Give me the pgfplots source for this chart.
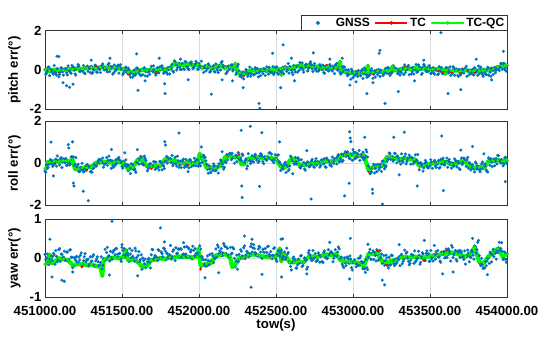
\documentclass[border=0pt]{standalone}
\usepackage{fontspec}
\setmainfont{Liberation Sans}
\usepackage{pgfplots}
\usepackage{pgfplotstable}
\pgfplotsset{compat=1.18}
\definecolor{gnss}{rgb}{0,0.447,0.741}
\definecolor{tcred}{rgb}{1,0,0}
\definecolor{qcgreen}{rgb}{0,1,0}

\pgfplotstableread{
t qc tc
451000 0.00 0.00
451030 -0.05 -0.05
451060 0.02 0.02
451090 -0.03 -0.12
451120 0.00 0.00
451150 0.05 0.05
451180 0.03 0.03
451210 0.08 0.08
451240 0.05 0.05
451270 0.10 0.10
451300 0.12 0.12
451330 0.08 0.20
451360 0.15 0.15
451390 0.12 0.12
451420 0.10 0.10
451450 0.14 0.14
451480 0.08 0.08
451510 0.05 0.05
451540 -0.12 -0.22
451570 -0.10 -0.10
451600 -0.05 -0.05
451630 0.00 0.00
451660 -0.03 -0.03
451690 0.02 0.02
451720 0.00 -0.10
451750 0.05 0.05
451780 0.03 0.03
451810 0.08 0.08
451840 0.32 0.32
451870 0.28 0.28
451900 0.25 0.25
451930 0.30 0.30
451960 0.24 0.24
451990 0.27 0.27
452020 0.12 0.12
452050 0.18 0.18
452080 0.10 0.10
452110 0.15 0.15
452140 0.22 0.22
452170 0.12 0.12
452200 0.15 0.15
452230 0.10 0.10
452236 0.32 0.32
452242 0.05 0.05
452260 -0.15 -0.15
452290 -0.20 -0.30
452320 -0.05 -0.05
452350 -0.02 -0.02
452380 -0.05 -0.05
452410 0.00 0.00
452440 -0.03 -0.03
452470 0.02 0.02
452500 0.00 0.00
452530 0.05 0.05
452536 -0.25 -0.25
452542 0.08 0.08
452560 0.12 0.12
452590 0.08 0.08
452620 0.15 0.15
452650 0.20 0.20
452680 0.18 0.18
452710 0.22 0.22
452740 0.15 0.15
452770 0.18 0.18
452800 0.12 0.12
452830 0.15 0.25
452860 0.10 0.10
452890 0.12 0.12
452912 0.12 0.12
452916 0.42 0.42
452920 0.10 0.10
452950 -0.10 -0.10
452980 -0.15 -0.15
453010 -0.12 -0.12
453040 -0.18 -0.18
453070 -0.10 -0.10
453092 -0.10 -0.10
453096 0.22 0.22
453100 -0.08 -0.08
453130 -0.12 -0.22
453160 -0.05 -0.05
453190 -0.10 -0.10
453220 -0.02 -0.02
453250 0.05 0.05
453258 0.18 0.18
453266 0.00 0.00
453280 -0.02 -0.02
453310 0.05 0.05
453340 0.08 0.16
453370 0.05 0.05
453400 0.10 0.10
453430 0.06 0.06
453460 0.08 0.08
453490 0.05 0.05
453520 0.02 0.02
453550 0.05 -0.05
453580 0.00 -0.10
453596 0.00 -0.05
453600 -0.20 -0.20
453610 0.00 0.00
453640 -0.05 -0.14
453670 -0.02 -0.02
453700 -0.05 -0.14
453730 0.00 0.00
453760 -0.05 -0.05
453790 -0.02 -0.12
453820 -0.05 -0.05
453850 0.00 0.00
453880 -0.02 -0.02
453910 0.05 0.05
453940 0.15 0.15
453970 0.20 0.20
454000 0.25 0.25
}\pitchlines

\pgfplotstableread{
t qc tc
451000 -0.25 -0.25
451015 0.05 0.05
451030 0.05 0.05
451060 0.10 0.10
451090 0.08 0.08
451120 0.12 0.12
451150 0.10 0.10
451180 0.15 0.15
451195 -0.28 -0.28
451210 -0.28 -0.28
451240 -0.22 -0.22
451270 -0.20 -0.30
451300 -0.18 -0.18
451330 0.02 0.02
451360 0.05 0.05
451390 0.08 0.08
451420 0.03 0.03
451450 0.06 0.06
451480 0.05 0.05
451510 0.02 0.02
451540 -0.28 -0.28
451570 -0.20 -0.20
451600 0.15 0.15
451630 0.18 0.18
451660 -0.12 -0.12
451690 -0.15 -0.25
451720 -0.10 -0.10
451750 -0.13 -0.13
451780 0.20 0.20
451810 0.12 0.12
451840 0.15 0.15
451870 0.02 0.02
451900 -0.02 -0.02
451930 0.03 -0.08
451960 0.00 0.00
451990 0.05 0.05
452005 0.45 0.45
452020 0.25 0.25
452050 -0.22 -0.22
452080 -0.20 -0.20
452110 -0.22 -0.22
452140 -0.10 -0.10
452170 0.30 0.30
452200 0.33 0.33
452230 0.28 0.28
452260 0.30 0.42
452275 -0.05 -0.05
452290 -0.05 -0.05
452320 0.22 0.22
452350 0.25 0.25
452380 0.30 0.30
452410 0.22 0.22
452440 0.28 0.28
452470 0.25 0.25
452500 0.20 0.20
452530 -0.15 -0.15
452560 -0.20 -0.20
452590 0.15 0.15
452620 0.17 0.17
452650 -0.05 -0.05
452680 -0.08 -0.08
452710 -0.05 -0.05
452740 0.00 0.00
452770 0.02 0.02
452800 0.05 0.05
452830 0.08 0.08
452860 0.10 0.10
452890 0.15 0.15
452920 0.35 0.35
452950 0.40 0.40
452980 0.42 0.42
453010 0.38 0.38
453040 0.35 0.35
453070 0.40 0.40
453100 -0.30 -0.38
453130 -0.20 -0.20
453160 -0.15 -0.15
453190 -0.12 -0.12
453220 0.30 0.30
453250 0.28 0.28
453280 0.22 0.22
453310 0.20 0.20
453340 0.25 0.25
453370 0.18 0.18
453400 0.20 0.20
453430 -0.12 -0.12
453460 -0.10 -0.10
453490 -0.05 -0.05
453520 0.00 0.00
453550 0.02 0.02
453580 0.08 0.08
453610 0.05 0.05
453640 -0.05 -0.05
453670 -0.03 -0.03
453700 0.10 0.10
453730 0.05 0.05
453760 -0.15 -0.15
453790 -0.20 -0.20
453820 -0.18 -0.18
453850 -0.22 -0.22
453880 0.10 0.10
453910 0.12 0.12
453940 0.15 0.15
453970 0.10 0.10
454000 0.15 0.15
}\rolllines

\pgfplotstableread{
t qc tc
451000 -0.15 -0.15
451020 -0.12 -0.12
451030 0.10 0.10
451045 -0.12 -0.12
451060 -0.10 -0.10
451090 0.00 0.00
451120 -0.02 -0.02
451150 -0.05 -0.05
451180 -0.18 -0.18
451210 -0.15 -0.15
451240 -0.15 -0.22
451270 -0.18 -0.18
451300 -0.15 -0.15
451330 -0.20 -0.20
451360 -0.22 -0.22
451372 -0.45 -0.45
451380 -0.05 -0.05
451390 -0.02 -0.02
451420 0.00 0.00
451450 0.02 0.02
451480 0.00 0.00
451510 0.03 0.03
451525 0.20 0.20
451540 -0.05 -0.05
451570 -0.03 -0.03
451600 -0.08 -0.08
451630 -0.22 -0.22
451660 -0.20 -0.20
451690 -0.05 -0.05
451720 -0.03 -0.03
451750 0.00 0.00
451780 -0.02 -0.02
451810 0.03 0.03
451840 0.02 0.02
451870 0.05 0.05
451900 0.03 0.03
451930 0.04 0.04
451960 0.02 0.02
451990 0.05 0.05
451998 0.25 0.25
452010 -0.18 -0.28
452020 -0.18 -0.18
452050 -0.14 -0.14
452080 -0.12 -0.12
452110 0.08 0.08
452140 0.08 0.08
452170 0.10 0.10
452200 0.05 0.05
452215 -0.22 -0.22
452230 -0.20 -0.20
452260 0.00 0.00
452290 0.02 0.02
452320 0.08 0.08
452350 0.10 0.10
452380 0.08 0.08
452410 0.05 0.05
452440 0.03 0.03
452470 0.02 0.02
452500 0.05 0.05
452525 0.25 0.25
452535 -0.08 -0.08
452545 0.12 0.12
452560 0.08 0.08
452590 -0.10 -0.10
452620 -0.10 -0.10
452650 -0.08 -0.08
452680 -0.10 -0.10
452710 0.03 0.03
452740 0.05 0.05
452770 0.04 0.04
452800 0.07 0.07
452830 0.10 0.10
452860 0.08 0.08
452890 0.11 0.11
452920 -0.05 -0.05
452950 -0.08 -0.08
452980 -0.10 -0.10
453010 -0.10 -0.10
453040 -0.12 -0.12
453070 -0.20 -0.22
453100 0.10 0.10
453130 0.11 0.11
453160 0.12 0.20
453190 -0.08 -0.08
453220 -0.10 -0.18
453250 -0.06 -0.06
453280 -0.05 -0.05
453310 0.03 0.03
453340 0.03 0.03
453370 0.02 0.02
453400 0.04 0.04
453430 0.03 0.03
453460 0.02 -0.06
453490 0.05 0.05
453520 0.07 0.07
453550 0.08 0.08
453580 0.12 0.12
453610 0.10 0.20
453640 0.15 0.15
453670 0.12 0.12
453700 0.08 0.08
453730 0.05 0.05
453760 0.10 0.10
453790 0.28 0.28
453820 -0.10 -0.10
453850 -0.12 -0.12
453880 0.05 0.05
453910 0.15 0.15
453940 0.25 0.25
453970 0.05 0.05
454000 0.10 0.10
}\yawlines

\pgfplotsset{
  panel/.style={
    scale only axis, width=462bp,
    xmin=451000, xmax=454000,
    xtick={451000,451500,452000,452500,453000,453500,454000},
    scaled x ticks=false,
    xmajorgrids, ymajorgrids,
    grid style={black!14, line width=0.5bp},
    axis line style={black!80, line width=0.7bp},
    every tick/.style={black!80, line width=0.7bp},
    major tick length=3bp,
    tick align=inside,
    /pgf/number format/assume math mode=true,
    tick label style={font=\bfseries\fontsize{13.3}{14}\selectfont},
    xticklabel style={yshift=-5bp},
    label style={font=\bfseries\fontsize{13.3}{14}\selectfont},
    ylabel style={at={(axis description cs:-0.066,0.5)}, anchor=center},
    clip=true,
  },
  gnssstyle/.style={only marks, mark=*, mark size=1.45bp, gnss, mark options={draw=gnss, fill=gnss, line width=0.2bp},
    legend image code/.code={\path[draw=none] (0bp,0bp) -- (32bp,0bp); \fill[gnss] (16bp,0bp) circle[radius=1.3bp];}},
  tcstyle/.style={tcred, line width=0.9bp, line join=round, mark=*, mark size=1.2bp, mark options={line width=0.3bp, fill=tcred}},
  qcstyle/.style={qcgreen, line width=4.2bp, line join=round, line cap=round, mark=*, mark size=1.3bp, mark options={line width=0.3bp, fill=qcgreen}},
}

\begin{document}
\begin{tikzpicture}
\path[use as bounding box] (0bp,0bp) rectangle (550bp,343bp);

% ---------------- pitch ----------------
\begin{axis}[panel, at={(45bp,312.3bp)}, anchor=north west, height=78.6bp,
  ymin=-2, ymax=2, ytick={-2,0,2}, xticklabels={}, ylabel={pitch err(°)},
  legend columns=3,
  legend style={at={(rel axis cs:1,1)}, anchor=south east, xshift=0.5bp, yshift=-0.5bp,
    font=\bfseries\fontsize{12}{12}\selectfont, draw=black!80, line width=0.7bp,
    inner sep=1bp, row sep=0bp,
    /tikz/every even column/.append style={column sep=3bp}},
  legend image code/.code={\draw[mark repeat=2,mark phase=2,#1] plot coordinates {(0bp,0bp) (16bp,0bp) (32bp,0bp)};},
  legend image post style={line width=1.3bp, mark size=1.9bp},
]
\addplot[gnssstyle] table[row sep=\\] {t y\\
451000 0.01\\ 451010 -0.16\\ 451020 0.14\\ 451030 -0.29\\ 451040 -0.07\\ 451050 -0.17\\
451060 0.23\\ 451070 -0.17\\ 451080 0.08\\ 451090 -0.35\\ 451100 -0.10\\ 451110 0.07\\
451120 -0.26\\ 451130 0.04\\ 451140 -0.14\\ 451150 0.21\\ 451160 -0.05\\ 451170 -0.17\\
451180 0.11\\ 451190 -0.01\\ 451200 -0.26\\ 451210 0.13\\ 451220 0.20\\ 451230 -0.07\\
451240 -0.03\\ 451250 0.23\\ 451260 -0.18\\ 451270 0.12\\ 451280 -0.07\\ 451290 0.09\\
451300 0.19\\ 451310 -0.13\\ 451320 0.01\\ 451330 0.21\\ 451340 -0.12\\ 451350 0.05\\
451360 -0.13\\ 451370 0.24\\ 451380 0.09\\ 451390 0.15\\ 451400 -0.01\\ 451410 0.27\\
451420 -0.08\\ 451430 0.10\\ 451440 -0.21\\ 451450 0.25\\ 451460 0.05\\ 451470 0.20\\
451480 -0.16\\ 451490 0.27\\ 451500 0.03\\ 451510 -0.16\\ 451520 0.09\\ 451530 -0.11\\
451540 0.10\\ 451550 -0.24\\ 451560 -0.14\\ 451570 -0.37\\ 451580 0.00\\ 451590 -0.20\\
451600 0.09\\ 451610 -0.19\\ 451620 -0.28\\ 451630 0.01\\ 451640 0.08\\ 451650 -0.30\\
451660 0.02\\ 451670 -0.10\\ 451680 -0.22\\ 451690 0.19\\ 451700 -0.09\\ 451710 0.01\\
451720 -0.26\\ 451730 0.12\\ 451740 -0.15\\ 451750 0.01\\ 451760 0.21\\ 451770 -0.17\\
451780 0.05\\ 451790 -0.14\\ 451800 0.12\\ 451810 -0.20\\ 451820 0.08\\ 451830 -0.05\\
451840 0.47\\ 451850 0.26\\ 451860 0.12\\ 451870 0.35\\ 451880 0.03\\ 451890 0.32\\
451900 0.07\\ 451910 0.43\\ 451920 0.16\\ 451930 0.07\\ 451940 0.33\\ 451950 0.41\\
451960 0.08\\ 451970 0.17\\ 451980 0.44\\ 451990 0.06\\ 452000 0.33\\ 452010 0.15\\
452020 0.11\\ 452030 -0.12\\ 452040 0.22\\ 452050 0.08\\ 452060 0.31\\ 452070 -0.11\\
452080 0.14\\ 452090 0.05\\ 452100 -0.08\\ 452110 0.31\\ 452120 0.00\\ 452130 0.16\\
452140 0.00\\ 452150 0.44\\ 452160 0.14\\ 452170 0.17\\ 452180 -0.14\\ 452190 0.20\\
452200 0.04\\ 452210 0.26\\ 452220 -0.05\\ 452230 0.08\\ 452240 -0.22\\ 452250 0.17\\
452260 -0.05\\ 452270 -0.28\\ 452280 -0.22\\ 452290 -0.45\\ 452300 -0.18\\ 452310 -0.06\\
452320 -0.22\\ 452330 0.15\\ 452340 -0.19\\ 452350 -0.02\\ 452360 -0.23\\ 452370 0.01\\
452380 0.07\\ 452390 -0.14\\ 452400 -0.29\\ 452410 -0.06\\ 452420 0.07\\ 452430 -0.28\\
452440 0.16\\ 452450 -0.21\\ 452460 -0.07\\ 452470 -0.10\\ 452480 0.17\\ 452490 -0.14\\
452500 0.14\\ 452510 -0.16\\ 452520 0.01\\ 452530 -0.07\\ 452540 0.03\\ 452550 -0.19\\
452560 0.18\\ 452570 -0.07\\ 452580 0.33\\ 452590 0.18\\ 452600 0.01\\ 452610 -0.24\\
452620 0.01\\ 452630 0.19\\ 452640 -0.11\\ 452650 -0.02\\ 452660 0.10\\ 452670 0.36\\
452680 -0.11\\ 452690 0.14\\ 452700 0.26\\ 452710 0.07\\ 452720 0.34\\ 452730 0.27\\
452740 -0.08\\ 452750 0.33\\ 452760 0.07\\ 452770 0.17\\ 452780 0.01\\ 452790 0.20\\
452800 0.01\\ 452810 -0.13\\ 452820 0.19\\ 452830 0.12\\ 452840 -0.05\\ 452850 0.28\\
452860 0.04\\ 452870 0.19\\ 452880 -0.18\\ 452890 0.27\\ 452900 -0.01\\ 452910 0.15\\
452920 -0.21\\ 452930 0.10\\ 452940 -0.08\\ 452950 -0.04\\ 452960 -0.19\\ 452970 0.01\\
452980 -0.20\\ 452990 0.04\\ 453000 -0.39\\ 453010 -0.28\\ 453020 -0.08\\ 453030 -0.33\\
453040 -0.20\\ 453050 -0.30\\ 453060 0.04\\ 453070 -0.20\\ 453080 0.00\\ 453090 -0.37\\
453100 -0.31\\ 453110 -0.22\\ 453120 0.06\\ 453130 -0.42\\ 453140 -0.04\\ 453150 -0.11\\
453160 -0.24\\ 453170 -0.12\\ 453180 0.00\\ 453190 -0.11\\ 453200 -0.21\\ 453210 0.07\\
453220 -0.17\\ 453230 0.10\\ 453240 -0.28\\ 453250 -0.17\\ 453260 0.21\\ 453270 0.01\\
453280 0.07\\ 453290 -0.19\\ 453300 0.00\\ 453310 -0.08\\ 453320 0.05\\ 453330 -0.23\\
453340 -0.12\\ 453350 0.02\\ 453360 0.23\\ 453370 0.09\\ 453380 -0.20\\ 453390 0.12\\
453400 0.01\\ 453410 0.28\\ 453420 -0.08\\ 453430 0.17\\ 453440 0.09\\ 453450 -0.17\\
453460 0.28\\ 453470 0.01\\ 453480 -0.08\\ 453490 -0.07\\ 453500 0.11\\ 453510 -0.16\\
453520 0.12\\ 453530 -0.22\\ 453540 0.01\\ 453550 -0.24\\ 453560 0.18\\ 453570 -0.05\\
453580 -0.18\\ 453590 -0.05\\ 453600 0.04\\ 453610 0.01\\ 453620 -0.15\\ 453630 0.16\\
453640 -0.13\\ 453650 0.17\\ 453660 -0.27\\ 453670 0.06\\ 453680 -0.28\\ 453690 0.03\\
453700 -0.25\\ 453710 0.06\\ 453720 -0.16\\ 453730 0.07\\ 453740 -0.32\\ 453750 -0.02\\
453760 -0.12\\ 453770 -0.18\\ 453780 0.05\\ 453790 0.12\\ 453800 0.00\\ 453810 -0.27\\
453820 -0.19\\ 453830 0.15\\ 453840 -0.22\\ 453850 0.03\\ 453860 -0.21\\ 453870 0.00\\
453880 -0.26\\ 453890 -0.11\\ 453900 0.10\\ 453910 -0.23\\ 453920 0.12\\ 453930 -0.01\\
453940 0.11\\ 453950 -0.03\\ 453960 0.34\\ 453970 0.04\\ 453980 0.35\\ 453990 0.08\\
454000 0.22\\
451005 -0.22\\ 451015 -0.04\\ 451025 0.16\\ 451035 0.04\\ 451045 -0.03\\ 451055 -0.22\\
451065 -0.11\\ 451075 -0.26\\ 451085 0.02\\ 451095 -0.23\\ 451105 0.12\\ 451115 -0.09\\
451125 0.04\\ 451135 0.07\\ 451145 -0.25\\ 451155 -0.04\\ 451165 -0.13\\ 451175 0.23\\
451185 0.14\\ 451195 -0.20\\ 451205 0.06\\ 451215 0.28\\ 451225 -0.08\\ 451235 0.01\\
451245 -0.07\\ 451255 -0.16\\ 451265 0.11\\ 451275 0.20\\ 451285 0.09\\ 451295 -0.14\\
451305 -0.17\\ 451315 0.02\\ 451325 0.25\\ 451335 -0.10\\ 451345 0.12\\ 451355 0.03\\
451365 0.16\\ 451375 0.31\\ 451385 0.00\\ 451395 0.04\\ 451405 -0.10\\ 451415 0.34\\
451425 0.18\\ 451435 0.15\\ 451445 -0.16\\ 451455 -0.06\\ 451465 0.03\\ 451475 0.25\\
451485 0.15\\ 451495 0.06\\ 451505 -0.24\\ 451515 -0.02\\ 451525 0.15\\ 451535 -0.08\\
451545 0.02\\ 451555 -0.37\\ 451565 -0.10\\ 451575 -0.24\\ 451585 -0.27\\ 451595 0.10\\
451605 -0.02\\ 451615 -0.05\\ 451625 -0.26\\ 451635 -0.24\\ 451645 0.12\\ 451655 -0.09\\
451665 -0.31\\ 451675 -0.09\\ 451685 0.04\\ 451695 -0.02\\ 451705 0.21\\ 451715 -0.16\\
451725 -0.16\\ 451735 -0.12\\ 451745 0.15\\ 451755 0.19\\ 451765 0.06\\ 451775 -0.11\\
451785 -0.09\\ 451795 -0.21\\ 451805 0.01\\ 451815 0.14\\ 451825 0.29\\ 451835 -0.11\\
451845 0.42\\ 451855 0.00\\ 451865 0.25\\ 451875 0.14\\ 451885 0.02\\ 451895 0.32\\
451905 0.03\\ 451915 0.41\\ 451925 0.15\\ 451935 0.01\\ 451945 0.38\\ 451955 0.26\\
451965 0.09\\ 451975 0.29\\ 451985 0.36\\ 451995 0.04\\ 452005 0.19\\ 452015 0.45\\
452025 0.11\\ 452035 0.14\\ 452045 -0.05\\ 452055 0.07\\ 452065 0.25\\ 452075 -0.07\\
452085 0.07\\ 452095 0.23\\ 452105 -0.10\\ 452115 0.09\\ 452125 -0.13\\ 452135 0.24\\
452145 0.37\\ 452155 0.25\\ 452165 0.09\\ 452175 -0.19\\ 452185 -0.06\\ 452195 0.12\\
452205 0.21\\ 452215 0.26\\ 452225 0.06\\ 452235 0.05\\ 452245 -0.14\\ 452255 0.29\\
452265 -0.31\\ 452275 -0.36\\ 452285 -0.11\\ 452295 -0.22\\ 452305 0.02\\ 452315 -0.32\\
452325 -0.15\\ 452335 -0.32\\ 452345 0.05\\ 452355 -0.25\\ 452365 0.12\\ 452375 -0.16\\
452385 -0.35\\ 452395 -0.04\\ 452405 0.03\\ 452415 -0.19\\ 452425 0.05\\ 452435 -0.07\\
452445 -0.04\\ 452455 0.14\\ 452465 -0.14\\ 452475 -0.13\\ 452485 -0.24\\ 452495 0.14\\
452505 0.16\\ 452515 -0.22\\ 452525 -0.04\\ 452535 -0.12\\ 452545 0.14\\ 452555 0.07\\
452565 0.12\\ 452575 -0.01\\ 452585 -0.16\\ 452595 0.02\\ 452605 -0.12\\ 452615 0.23\\
452625 -0.10\\ 452635 0.19\\ 452645 0.22\\ 452655 0.38\\ 452665 0.11\\ 452675 0.02\\
452685 0.21\\ 452695 0.29\\ 452705 -0.05\\ 452715 0.15\\ 452725 0.42\\ 452735 0.06\\
452745 0.21\\ 452755 0.03\\ 452765 -0.06\\ 452775 -0.06\\ 452785 0.28\\ 452795 0.17\\
452805 0.25\\ 452815 -0.17\\ 452825 0.02\\ 452835 0.10\\ 452845 -0.03\\ 452855 0.19\\
452865 -0.05\\ 452875 0.11\\ 452885 0.26\\ 452895 0.34\\ 452905 0.04\\ 452915 -0.10\\
452925 -0.16\\ 452935 0.18\\ 452945 0.15\\ 452955 0.01\\ 452965 -0.30\\ 452975 -0.21\\
452985 -0.47\\ 452995 -0.08\\ 453005 -0.17\\ 453015 -0.25\\ 453025 -0.19\\ 453035 -0.02\\
453045 -0.16\\ 453055 -0.04\\ 453065 -0.43\\ 453075 0.10\\ 453085 -0.24\\ 453095 -0.27\\
453105 -0.29\\ 453115 -0.05\\ 453125 -0.08\\ 453135 -0.21\\ 453145 -0.36\\ 453155 0.00\\
453165 0.02\\ 453175 -0.33\\ 453185 -0.11\\ 453195 -0.28\\ 453205 -0.14\\ 453215 0.09\\
453225 0.13\\ 453235 -0.18\\ 453245 -0.14\\ 453255 -0.11\\ 453265 0.19\\ 453275 0.06\\
453285 -0.04\\ 453295 -0.14\\ 453305 -0.26\\ 453315 -0.14\\ 453325 0.11\\ 453335 0.26\\
453345 0.01\\ 453355 0.18\\ 453365 -0.24\\ 453375 0.09\\ 453385 -0.09\\ 453395 -0.21\\
453405 0.00\\ 453415 -0.12\\ 453425 0.26\\ 453435 0.02\\ 453445 -0.23\\ 453455 0.14\\
453465 0.20\\ 453475 -0.07\\ 453485 0.13\\ 453495 0.23\\ 453505 -0.18\\ 453515 -0.03\\
453525 -0.15\\ 453535 0.01\\ 453545 0.04\\ 453555 -0.20\\ 453565 -0.06\\ 453575 0.12\\
453585 -0.20\\ 453595 -0.03\\ 453605 0.13\\ 453615 0.09\\ 453625 -0.06\\ 453635 -0.28\\
453645 -0.18\\ 453655 0.10\\ 453665 -0.02\\ 453675 -0.02\\ 453685 -0.33\\ 453695 -0.20\\
453705 -0.14\\ 453715 0.01\\ 453725 0.06\\ 453735 0.19\\ 453745 -0.05\\ 453755 -0.24\\
453765 -0.01\\ 453775 -0.21\\ 453785 -0.26\\ 453795 -0.14\\ 453805 -0.04\\ 453815 0.20\\
453825 0.05\\ 453835 -0.15\\ 453845 -0.32\\ 453855 -0.14\\ 453865 -0.23\\ 453875 0.14\\
453885 0.06\\ 453895 -0.32\\ 453905 -0.01\\ 453915 -0.02\\ 453925 -0.14\\ 453935 0.10\\
453945 0.04\\ 453955 0.14\\ 453965 0.32\\ 453975 0.32\\ 453985 0.05\\ 453995 -0.06\\
451078 0.70\\ 451090 0.68\\ 451117 -0.65\\ 451140 -0.80\\ 451160 -0.88\\ 451182 -0.72\\
451422 0.60\\ 451595 0.82\\ 451604 -1.03\\ 451742 0.60\\ 451777 -0.70\\ 451780 -1.20\\
451930 -0.50\\ 452080 -1.23\\ 452217 -0.55\\ 452287 -0.90\\ 452390 -1.70\\ 452395 -1.95\\
452478 0.85\\ 452546 1.28\\ 452530 -0.90\\ 452600 0.60\\ 452742 0.87\\ 452980 -0.77\\
453090 -1.20\\ 453170 0.85\\ 453175 1.00\\ 453208 -1.70\\ 453294 -1.10\\ 453571 1.90\\
453617 -1.20\\ 453700 -1.00\\ 453977 0.95\\ 451300 0.50\\ 451650 -0.55\\ 451880 0.55\\
452150 -0.50\\ 452620 -0.55\\ 452850 0.55\\ 453020 -0.60\\ 453400 -0.55\\ 453460 0.50\\
453800 0.55\\ 453900 -0.50\\ 452930 0.60\\ 453130 -0.65\\
};
\addlegendentry{GNSS}
\addplot[tcstyle] table[x=t, y=tc] {\pitchlines};
\addlegendentry{TC}
\addplot[qcstyle] table[x=t, y=qc] {\pitchlines};
\addlegendentry{TC-QC}
\end{axis}

% ---------------- roll ----------------
\begin{axis}[panel, at={(45bp,221.7bp)}, anchor=north west, height=84bp,
  ymin=-2, ymax=2, ytick={-2,0,2}, xticklabels={}, ylabel={roll err(°)}]
\addplot[gnssstyle] table[row sep=\\] {t y\\
451000 -0.37\\ 451010 -0.07\\ 451020 -0.20\\ 451030 0.07\\ 451040 -0.03\\ 451050 -0.15\\
451060 -0.05\\ 451070 0.20\\ 451080 0.35\\ 451090 0.05\\ 451100 0.22\\ 451110 -0.20\\
451120 0.20\\ 451130 0.02\\ 451140 -0.10\\ 451150 0.04\\ 451160 -0.08\\ 451170 0.30\\
451180 0.15\\ 451190 -0.10\\ 451200 0.27\\ 451210 -0.12\\ 451220 -0.39\\ 451230 -0.19\\
451240 0.00\\ 451250 -0.41\\ 451260 -0.26\\ 451270 -0.33\\ 451280 -0.17\\ 451290 -0.14\\
451300 -0.39\\ 451310 -0.25\\ 451320 -0.07\\ 451330 -0.14\\ 451340 0.03\\ 451350 0.19\\
451360 0.18\\ 451370 0.03\\ 451380 -0.19\\ 451390 -0.01\\ 451400 0.27\\ 451410 0.15\\
451420 0.07\\ 451430 -0.24\\ 451440 -0.11\\ 451450 0.01\\ 451460 0.16\\ 451470 0.21\\
451480 0.28\\ 451490 0.04\\ 451500 -0.15\\ 451510 0.10\\ 451520 -0.10\\ 451530 -0.15\\
451540 -0.36\\ 451550 -0.26\\ 451560 -0.02\\ 451570 -0.06\\ 451580 -0.26\\ 451590 -0.43\\
451600 0.05\\ 451610 -0.04\\ 451620 0.33\\ 451630 0.30\\ 451640 -0.08\\ 451650 0.23\\
451660 -0.15\\ 451670 -0.27\\ 451680 -0.03\\ 451690 -0.22\\ 451700 -0.12\\ 451710 0.06\\
451720 0.06\\ 451730 -0.21\\ 451740 -0.32\\ 451750 0.07\\ 451760 -0.31\\ 451770 -0.13\\
451780 0.07\\ 451790 0.33\\ 451800 0.26\\ 451810 0.16\\ 451820 0.03\\ 451830 -0.12\\
451840 0.13\\ 451850 -0.01\\ 451860 0.34\\ 451870 -0.19\\ 451880 0.10\\ 451890 0.13\\
451900 0.20\\ 451910 -0.07\\ 451920 -0.16\\ 451930 0.10\\ 451940 0.18\\ 451950 -0.16\\
451960 -0.03\\ 451970 0.24\\ 451980 -0.12\\ 451990 0.15\\ 452000 -0.03\\ 452010 -0.12\\
452020 0.05\\ 452030 0.39\\ 452040 0.28\\ 452050 -0.05\\ 452060 -0.47\\ 452070 -0.28\\
452080 -0.21\\ 452090 -0.34\\ 452100 -0.12\\ 452110 -0.33\\ 452120 -0.17\\ 452130 -0.02\\
452140 0.16\\ 452150 -0.14\\ 452160 -0.28\\ 452170 0.08\\ 452180 0.42\\ 452190 0.39\\
452200 0.48\\ 452210 0.17\\ 452220 0.26\\ 452230 0.00\\ 452240 0.39\\ 452250 0.30\\
452260 0.21\\ 452270 0.27\\ 452280 0.44\\ 452290 0.01\\ 452300 0.13\\ 452310 -0.26\\
452320 0.46\\ 452330 0.12\\ 452340 0.09\\ 452350 0.08\\ 452360 0.32\\ 452370 0.29\\
452380 0.25\\ 452390 0.10\\ 452400 0.46\\ 452410 0.33\\ 452420 -0.02\\ 452430 0.20\\
452440 0.14\\ 452450 0.28\\ 452460 0.51\\ 452470 0.44\\ 452480 0.13\\ 452490 0.17\\
452500 0.25\\ 452510 0.38\\ 452520 0.08\\ 452530 -0.35\\ 452540 -0.23\\ 452550 -0.13\\
452560 0.05\\ 452570 -0.10\\ 452580 -0.35\\ 452590 -0.13\\ 452600 0.29\\ 452610 0.12\\
452620 -0.05\\ 452630 0.07\\ 452640 0.25\\ 452650 0.15\\ 452660 -0.23\\ 452670 -0.11\\
452680 0.04\\ 452690 -0.33\\ 452700 -0.08\\ 452710 0.04\\ 452720 -0.16\\ 452730 0.11\\
452740 -0.04\\ 452750 -0.19\\ 452760 0.22\\ 452770 0.08\\ 452780 0.05\\ 452790 -0.11\\
452800 0.16\\ 452810 -0.02\\ 452820 -0.16\\ 452830 0.25\\ 452840 0.09\\ 452850 -0.08\\
452860 -0.14\\ 452870 0.08\\ 452880 0.23\\ 452890 0.22\\ 452900 0.34\\ 452910 0.06\\
452920 0.21\\ 452930 0.08\\ 452940 0.39\\ 452950 0.55\\ 452960 0.50\\ 452970 0.35\\
452980 0.22\\ 452990 0.41\\ 453000 0.65\\ 453010 0.21\\ 453020 0.26\\ 453030 0.46\\
453040 0.61\\ 453050 0.37\\ 453060 0.27\\ 453070 0.17\\ 453080 0.34\\ 453090 0.54\\
453100 -0.12\\ 453110 -0.49\\ 453120 -0.40\\ 453130 -0.15\\ 453140 -0.46\\ 453150 -0.08\\
453160 -0.06\\ 453170 -0.30\\ 453180 -0.18\\ 453190 0.09\\ 453200 -0.09\\ 453210 -0.19\\
453220 0.08\\ 453230 0.19\\ 453240 0.46\\ 453250 0.28\\ 453260 0.10\\ 453270 0.48\\
453280 0.28\\ 453290 0.35\\ 453300 0.09\\ 453310 -0.04\\ 453320 0.11\\ 453330 0.24\\
453340 0.44\\ 453350 0.09\\ 453360 0.23\\ 453370 0.29\\ 453380 0.26\\ 453390 -0.03\\
453400 0.06\\ 453410 0.15\\ 453420 0.42\\ 453430 -0.31\\ 453440 0.03\\ 453450 -0.05\\
453460 -0.22\\ 453470 0.14\\ 453480 -0.13\\ 453490 -0.22\\ 453500 -0.13\\ 453510 0.05\\
453520 0.03\\ 453530 0.14\\ 453540 -0.20\\ 453550 -0.04\\ 453560 -0.23\\ 453570 0.19\\
453580 0.16\\ 453590 -0.06\\ 453600 0.07\\ 453610 0.25\\ 453620 0.10\\ 453630 -0.06\\
453640 -0.23\\ 453650 -0.09\\ 453660 0.21\\ 453670 0.06\\ 453680 0.09\\ 453690 -0.25\\
453700 0.03\\ 453710 -0.06\\ 453720 0.25\\ 453730 0.07\\ 453740 0.16\\ 453750 -0.23\\
453760 -0.01\\ 453770 -0.18\\ 453780 -0.24\\ 453790 -0.41\\ 453800 -0.02\\ 453810 -0.14\\
453820 -0.31\\ 453830 -0.28\\ 453840 0.06\\ 453850 -0.18\\ 453860 -0.15\\ 453870 -0.39\\
453880 0.26\\ 453890 -0.10\\ 453900 0.05\\ 453910 0.10\\ 453920 -0.12\\ 453930 0.23\\
453940 0.38\\ 453950 0.15\\ 453960 0.01\\ 453970 0.02\\ 453980 -0.02\\ 453990 0.29\\
454000 0.12\\
451005 -0.43\\ 451015 -0.25\\ 451025 -0.05\\ 451035 0.18\\ 451045 0.11\\ 451055 -0.08\\
451065 0.01\\ 451075 -0.14\\ 451085 0.14\\ 451095 -0.08\\ 451105 0.27\\ 451115 0.06\\
451125 0.20\\ 451135 0.23\\ 451145 -0.09\\ 451155 0.05\\ 451165 -0.04\\ 451175 0.32\\
451185 0.30\\ 451195 -0.04\\ 451205 -0.22\\ 451215 -0.04\\ 451225 -0.40\\ 451235 -0.31\\
451245 -0.30\\ 451255 -0.39\\ 451265 -0.12\\ 451275 -0.06\\ 451285 -0.17\\ 451295 -0.40\\
451305 -0.43\\ 451315 -0.24\\ 451325 -0.01\\ 451335 -0.12\\ 451345 0.10\\ 451355 0.01\\
451365 0.10\\ 451375 0.25\\ 451385 -0.06\\ 451395 0.04\\ 451405 -0.10\\ 451415 0.34\\
451425 0.15\\ 451435 0.12\\ 451445 -0.19\\ 451455 -0.10\\ 451465 -0.01\\ 451475 0.21\\
451485 0.16\\ 451495 0.07\\ 451505 -0.23\\ 451515 -0.01\\ 451525 0.16\\ 451535 -0.07\\
451545 -0.10\\ 451555 -0.49\\ 451565 -0.22\\ 451575 -0.30\\ 451585 -0.33\\ 451595 0.04\\
451605 0.22\\ 451615 0.19\\ 451625 -0.02\\ 451635 -0.02\\ 451645 0.34\\ 451655 0.13\\
451665 -0.36\\ 451675 -0.14\\ 451685 -0.01\\ 451695 -0.15\\ 451705 0.08\\ 451715 -0.29\\
451725 -0.22\\ 451735 -0.18\\ 451745 0.09\\ 451755 0.05\\ 451765 -0.08\\ 451775 -0.25\\
451785 0.12\\ 451795 0.00\\ 451805 0.22\\ 451815 0.22\\ 451825 0.37\\ 451835 -0.03\\
451845 0.29\\ 451855 -0.13\\ 451865 0.12\\ 451875 -0.08\\ 451885 -0.20\\ 451895 0.10\\
451905 -0.20\\ 451915 0.18\\ 451925 -0.08\\ 451935 -0.22\\ 451945 0.15\\ 451955 0.03\\
451965 -0.11\\ 451975 0.09\\ 451985 0.16\\ 451995 -0.14\\ 452005 0.01\\ 452015 0.27\\
452025 0.28\\ 452035 0.31\\ 452045 0.12\\ 452055 -0.29\\ 452065 -0.11\\ 452075 -0.43\\
452085 -0.19\\ 452095 -0.03\\ 452105 -0.36\\ 452115 -0.24\\ 452125 -0.46\\ 452135 -0.09\\
452145 0.09\\ 452155 -0.03\\ 452165 -0.19\\ 452175 0.03\\ 452185 0.16\\ 452195 0.34\\
452205 0.43\\ 452215 0.48\\ 452225 0.28\\ 452235 0.27\\ 452245 0.08\\ 452255 0.51\\
452265 0.18\\ 452275 0.13\\ 452285 0.38\\ 452295 -0.03\\ 452305 0.21\\ 452315 -0.13\\
452325 0.16\\ 452335 -0.01\\ 452345 0.36\\ 452355 0.06\\ 452365 0.43\\ 452375 0.15\\
452385 0.04\\ 452395 0.35\\ 452405 0.42\\ 452415 0.07\\ 452425 0.31\\ 452435 0.19\\
452445 0.31\\ 452455 0.49\\ 452465 0.21\\ 452475 0.14\\ 452485 0.03\\ 452495 0.41\\
452505 0.20\\ 452515 0.40\\ 452525 0.02\\ 452535 -0.09\\ 452545 -0.28\\ 452555 -0.02\\
452565 -0.44\\ 452575 -0.16\\ 452585 -0.29\\ 452595 0.34\\ 452605 0.13\\ 452615 -0.01\\
452625 0.28\\ 452635 -0.04\\ 452645 0.25\\ 452655 -0.19\\ 452665 0.17\\ 452675 -0.10\\
452685 -0.27\\ 452695 -0.01\\ 452705 0.07\\ 452715 -0.17\\ 452725 -0.08\\ 452735 0.19\\
452745 -0.17\\ 452755 0.10\\ 452765 -0.08\\ 452775 0.05\\ 452785 -0.18\\ 452795 0.16\\
452805 -0.01\\ 452815 0.22\\ 452825 -0.20\\ 452835 0.16\\ 452845 0.07\\ 452855 -0.06\\
452865 0.30\\ 452875 -0.01\\ 452885 0.15\\ 452895 -0.03\\ 452905 0.41\\ 452915 0.11\\
452925 0.44\\ 452935 0.13\\ 452945 0.47\\ 452955 0.33\\ 452965 0.55\\ 452975 0.24\\
452985 0.44\\ 452995 0.14\\ 453005 0.53\\ 453015 0.52\\ 453025 0.29\\ 453035 0.35\\
453045 0.14\\ 453055 0.41\\ 453065 0.53\\ 453075 0.27\\ 453085 0.64\\ 453095 0.30\\
453105 -0.26\\ 453115 -0.47\\ 453125 -0.23\\ 453135 -0.04\\ 453145 -0.25\\ 453155 -0.40\\
453165 -0.17\\ 453175 -0.04\\ 453185 -0.39\\ 453195 0.11\\ 453205 -0.26\\ 453215 -0.12\\
453225 0.22\\ 453235 0.49\\ 453245 0.18\\ 453255 0.33\\ 453265 0.16\\ 453275 0.46\\
453285 0.02\\ 453295 0.24\\ 453305 0.14\\ 453315 0.45\\ 453325 0.05\\ 453335 0.30\\
453345 -0.03\\ 453355 0.22\\ 453365 0.39\\ 453375 -0.04\\ 453385 0.26\\ 453395 0.08\\
453405 0.40\\ 453415 0.14\\ 453425 0.02\\ 453435 0.00\\ 453445 -0.12\\ 453455 -0.37\\
453465 -0.01\\ 453475 0.06\\ 453485 -0.21\\ 453495 -0.09\\ 453505 0.17\\ 453515 -0.24\\
453525 0.06\\ 453535 -0.13\\ 453545 0.03\\ 453555 0.13\\ 453565 -0.19\\ 453575 -0.05\\
453585 0.25\\ 453595 -0.08\\ 453605 0.09\\ 453615 -0.19\\ 453625 0.18\\ 453635 0.03\\
453645 0.02\\ 453655 -0.14\\ 453665 0.14\\ 453675 -0.17\\ 453685 0.01\\ 453695 -0.30\\
453705 0.25\\ 453715 0.05\\ 453725 0.20\\ 453735 -0.15\\ 453745 0.28\\ 453755 0.04\\
453765 -0.32\\ 453775 -0.07\\ 453785 -0.27\\ 453795 0.06\\ 453805 -0.28\\ 453815 -0.18\\
453825 -0.41\\ 453835 -0.04\\ 453845 -0.24\\ 453855 -0.04\\ 453865 -0.32\\ 453875 -0.41\\
453885 0.15\\ 453895 0.22\\ 453905 -0.16\\ 453915 0.21\\ 453925 0.09\\ 453935 -0.03\\
453945 0.36\\ 453955 0.08\\ 453965 0.18\\ 453975 -0.12\\ 453985 0.26\\ 453995 -0.01\\
451039 1.01\\ 451151 0.89\\ 451155 0.73\\ 451179 1.02\\ 451184 -0.94\\ 451188 -1.08\\
451248 -1.33\\ 451281 -1.78\\ 451054 -0.60\\ 451432 0.66\\ 451518 0.50\\ 451778 1.03\\
451782 0.87\\ 451870 1.44\\ 451929 -0.40\\ 452015 0.78\\ 452076 -0.45\\ 452274 1.57\\
452333 1.76\\ 452408 1.46\\ 452278 -1.08\\ 452280 -1.63\\ 452393 -1.10\\ 452523 1.02\\
452609 -0.50\\ 452728 -1.70\\ 452946 -1.55\\ 452978 1.50\\ 452975 -0.95\\ 452982 1.20\\
452986 1.03\\ 453076 1.24\\ 453126 -1.24\\ 453128 -1.43\\ 453191 -1.94\\ 453265 1.24\\
453333 1.48\\ 453417 -1.08\\ 453576 1.30\\ 453587 -1.30\\ 453776 0.80\\ 453989 -0.87\\
453700 0.63\\ 451600 0.65\\ 452150 0.55\\ 452700 0.60\\ 453300 -0.55\\ 453850 0.45\\
};
\addplot[tcstyle] table[x=t, y=tc] {\rolllines};
\addplot[qcstyle] table[x=t, y=qc] {\rolllines};
\end{axis}

% ---------------- yaw ----------------
\begin{axis}[panel, at={(45bp,123.7bp)}, anchor=north west, height=78bp,
  ymin=-1, ymax=1, ytick={-1,0,1},
  xticklabels={451000.00,451500.00,452000.00,452500.00,453000.00,453500.00,454000.00},
  ylabel={yaw err(°)}, xlabel={tow(s)},
  xlabel style={yshift=3bp}]
\addplot[gnssstyle] table[row sep=\\] {t y\\
451000 0.10\\ 451010 0.01\\ 451020 -0.11\\ 451030 -0.02\\ 451040 -0.10\\ 451050 0.05\\
451060 0.09\\ 451070 0.20\\ 451080 -0.09\\ 451090 0.22\\ 451100 -0.08\\ 451110 0.10\\
451120 0.03\\ 451130 -0.05\\ 451140 0.16\\ 451150 -0.06\\ 451160 0.21\\ 451170 0.03\\
451180 -0.24\\ 451190 0.02\\ 451200 -0.06\\ 451210 -0.11\\ 451220 0.03\\ 451230 0.08\\
451240 -0.16\\ 451250 -0.06\\ 451260 0.12\\ 451270 -0.04\\ 451280 -0.02\\ 451290 -0.15\\
451300 -0.08\\ 451310 0.05\\ 451320 -0.18\\ 451330 -0.07\\ 451340 0.04\\ 451350 -0.19\\
451360 -0.11\\ 451370 -0.27\\ 451380 -0.01\\ 451390 0.23\\ 451400 0.15\\ 451410 0.04\\
451420 -0.07\\ 451430 0.02\\ 451440 0.15\\ 451450 0.21\\ 451460 0.25\\ 451470 0.10\\
451480 0.11\\ 451490 -0.02\\ 451500 0.28\\ 451510 0.07\\ 451520 0.03\\ 451530 0.21\\
451540 0.08\\ 451550 0.25\\ 451560 0.01\\ 451570 0.05\\ 451580 -0.07\\ 451590 0.19\\
451600 -0.09\\ 451610 0.17\\ 451620 -0.03\\ 451630 -0.28\\ 451640 -0.06\\ 451650 -0.02\\
451660 -0.19\\ 451670 -0.02\\ 451680 -0.10\\ 451690 0.09\\ 451700 0.22\\ 451710 0.02\\
451720 0.01\\ 451730 -0.06\\ 451740 0.20\\ 451750 -0.01\\ 451760 0.12\\ 451770 0.26\\
451780 0.19\\ 451790 0.14\\ 451800 0.01\\ 451810 0.09\\ 451820 -0.02\\ 451830 0.18\\
451840 0.03\\ 451850 0.27\\ 451860 0.13\\ 451870 0.23\\ 451880 0.25\\ 451890 0.02\\
451900 0.11\\ 451910 0.05\\ 451920 0.30\\ 451930 0.27\\ 451940 0.03\\ 451950 0.21\\
451960 0.31\\ 451970 0.06\\ 451980 0.12\\ 451990 0.11\\ 452000 0.05\\ 452010 0.24\\
452020 0.04\\ 452030 -0.04\\ 452040 -0.20\\ 452050 -0.20\\ 452060 -0.06\\ 452070 0.10\\
452080 -0.10\\ 452090 0.06\\ 452100 -0.01\\ 452110 0.24\\ 452120 0.34\\ 452130 0.12\\
452140 0.17\\ 452150 0.07\\ 452160 0.38\\ 452170 0.30\\ 452180 0.28\\ 452190 0.07\\
452200 0.06\\ 452210 0.12\\ 452220 0.28\\ 452230 0.00\\ 452240 -0.07\\ 452250 -0.28\\
452260 0.10\\ 452270 0.22\\ 452280 0.06\\ 452290 0.27\\ 452300 -0.01\\ 452310 0.18\\
452320 0.13\\ 452330 0.11\\ 452340 0.37\\ 452350 0.27\\ 452360 0.25\\ 452370 0.10\\
452380 0.06\\ 452390 0.31\\ 452400 0.16\\ 452410 0.00\\ 452420 0.16\\ 452430 0.25\\
452440 0.15\\ 452450 0.31\\ 452460 0.05\\ 452470 0.06\\ 452480 0.08\\ 452490 0.27\\
452500 -0.03\\ 452510 0.09\\ 452520 0.18\\ 452530 0.13\\ 452540 -0.02\\ 452550 0.06\\
452560 -0.03\\ 452570 0.26\\ 452580 0.15\\ 452590 -0.12\\ 452600 -0.30\\ 452610 0.00\\
452620 -0.04\\ 452630 -0.25\\ 452640 -0.17\\ 452650 -0.12\\ 452660 0.06\\ 452670 -0.21\\
452680 -0.10\\ 452690 -0.02\\ 452700 -0.28\\ 452710 0.14\\ 452720 0.09\\ 452730 -0.05\\
452740 0.20\\ 452750 0.02\\ 452760 -0.08\\ 452770 -0.05\\ 452780 0.08\\ 452790 0.06\\
452800 -0.08\\ 452810 0.15\\ 452820 0.02\\ 452830 -0.01\\ 452840 0.22\\ 452850 0.11\\
452860 0.17\\ 452870 -0.09\\ 452880 0.07\\ 452890 0.05\\ 452900 0.16\\ 452910 0.24\\
452920 -0.02\\ 452930 -0.15\\ 452940 -0.24\\ 452950 -0.12\\ 452960 0.03\\ 452970 -0.01\\
452980 0.06\\ 452990 -0.24\\ 453000 -0.11\\ 453010 -0.04\\ 453020 -0.22\\ 453030 -0.18\\
453040 -0.18\\ 453050 0.06\\ 453060 -0.11\\ 453070 -0.10\\ 453080 -0.36\\ 453090 -0.24\\
453100 0.03\\ 453110 0.23\\ 453120 -0.03\\ 453130 0.19\\ 453140 0.15\\ 453150 -0.07\\
453160 0.10\\ 453170 0.18\\ 453180 0.01\\ 453190 -0.13\\ 453200 0.07\\ 453210 -0.06\\
453220 0.01\\ 453230 -0.25\\ 453240 -0.18\\ 453250 0.08\\ 453260 -0.06\\ 453270 -0.19\\
453280 -0.14\\ 453290 -0.01\\ 453300 0.04\\ 453310 0.06\\ 453320 -0.14\\ 453330 -0.03\\
453340 0.02\\ 453350 0.16\\ 453360 -0.08\\ 453370 -0.13\\ 453380 0.10\\ 453390 0.08\\
453400 0.19\\ 453410 -0.06\\ 453420 0.00\\ 453430 0.08\\ 453440 -0.10\\ 453450 0.14\\
453460 0.00\\ 453470 -0.06\\ 453480 0.19\\ 453490 0.12\\ 453500 -0.07\\ 453510 -0.01\\
453520 -0.07\\ 453530 0.09\\ 453540 0.17\\ 453550 0.20\\ 453560 0.04\\ 453570 -0.10\\
453580 0.11\\ 453590 0.18\\ 453600 0.02\\ 453610 0.02\\ 453620 0.24\\ 453630 0.14\\
453640 0.33\\ 453650 0.02\\ 453660 0.12\\ 453670 -0.03\\ 453680 0.18\\ 453690 0.20\\
453700 0.19\\ 453710 0.03\\ 453720 -0.03\\ 453730 -0.15\\ 453740 0.06\\ 453750 0.13\\
453760 0.04\\ 453770 0.20\\ 453780 0.08\\ 453790 0.32\\ 453800 0.13\\ 453810 0.41\\
453820 0.07\\ 453830 -0.19\\ 453840 -0.17\\ 453850 -0.24\\ 453860 -0.09\\ 453870 -0.07\\
453880 0.01\\ 453890 0.16\\ 453900 -0.09\\ 453910 0.23\\ 453920 0.14\\ 453930 -0.02\\
453940 0.15\\ 453950 0.41\\ 453960 0.25\\ 453970 0.18\\ 453980 -0.01\\ 453990 -0.03\\
454000 0.12\\
451005 -0.03\\ 451015 0.11\\ 451025 -0.16\\ 451035 0.08\\ 451045 -0.05\\ 451055 0.13\\
451065 -0.15\\ 451075 0.05\\ 451085 -0.04\\ 451095 0.25\\ 451105 0.11\\ 451115 0.01\\
451125 0.18\\ 451135 -0.05\\ 451145 0.16\\ 451155 -0.03\\ 451165 0.22\\ 451175 0.03\\
451185 -0.19\\ 451195 -0.01\\ 451205 0.05\\ 451215 -0.11\\ 451225 -0.05\\ 451235 0.14\\
451245 -0.15\\ 451255 0.04\\ 451265 -0.09\\ 451275 -0.04\\ 451285 -0.20\\ 451295 0.04\\
451305 -0.07\\ 451315 0.09\\ 451325 -0.21\\ 451335 -0.02\\ 451345 -0.09\\ 451355 -0.18\\
451365 0.04\\ 451375 -0.18\\ 451385 -0.06\\ 451395 -0.03\\ 451405 0.28\\ 451415 0.07\\
451425 0.18\\ 451435 -0.03\\ 451445 0.20\\ 451455 0.09\\ 451465 0.25\\ 451475 0.03\\
451485 0.13\\ 451495 -0.08\\ 451505 0.20\\ 451515 0.25\\ 451525 0.09\\ 451535 0.13\\
451545 -0.08\\ 451555 0.11\\ 451565 0.20\\ 451575 0.00\\ 451585 0.26\\ 451595 0.02\\
451605 0.07\\ 451615 -0.08\\ 451625 0.09\\ 451635 0.01\\ 451645 -0.14\\ 451655 -0.24\\
451665 -0.09\\ 451675 0.00\\ 451685 -0.25\\ 451695 0.23\\ 451705 -0.03\\ 451715 0.07\\
451725 0.03\\ 451735 0.22\\ 451745 0.01\\ 451755 0.16\\ 451765 0.04\\ 451775 0.25\\
451785 -0.04\\ 451795 0.11\\ 451805 0.04\\ 451815 0.33\\ 451825 0.04\\ 451835 0.22\\
451845 -0.06\\ 451855 0.12\\ 451865 0.24\\ 451875 0.02\\ 451885 0.23\\ 451895 0.10\\
451905 0.29\\ 451915 0.11\\ 451925 0.02\\ 451935 0.24\\ 451945 0.16\\ 451955 -0.02\\
451965 0.20\\ 451975 0.25\\ 451985 0.06\\ 451995 0.14\\ 452005 0.32\\ 452015 0.04\\
452025 -0.02\\ 452035 -0.15\\ 452045 -0.04\\ 452055 0.06\\ 452065 -0.17\\ 452075 -0.07\\
452085 0.12\\ 452095 -0.11\\ 452105 0.01\\ 452115 0.03\\ 452125 0.29\\ 452135 0.19\\
452145 0.25\\ 452155 0.14\\ 452165 0.33\\ 452175 0.12\\ 452185 0.25\\ 452195 0.03\\
452205 0.28\\ 452215 0.13\\ 452225 0.24\\ 452235 -0.22\\ 452245 0.08\\ 452255 -0.09\\
452265 0.00\\ 452275 0.18\\ 452285 0.04\\ 452295 0.32\\ 452305 0.08\\ 452315 0.15\\
452325 0.04\\ 452335 0.30\\ 452345 0.16\\ 452355 0.35\\ 452365 0.15\\ 452375 0.09\\
452385 0.24\\ 452395 0.28\\ 452405 0.02\\ 452415 0.23\\ 452425 0.15\\ 452435 0.06\\
452445 0.30\\ 452455 0.10\\ 452465 0.17\\ 452475 -0.01\\ 452485 0.25\\ 452495 0.06\\
452505 -0.08\\ 452515 0.19\\ 452525 0.05\\ 452535 0.21\\ 452545 0.03\\ 452555 0.16\\
452565 0.02\\ 452575 0.11\\ 452585 -0.09\\ 452595 -0.21\\ 452605 -0.11\\ 452615 0.03\\
452625 -0.04\\ 452635 -0.25\\ 452645 -0.02\\ 452655 -0.12\\ 452665 0.07\\ 452675 -0.18\\
452685 0.01\\ 452695 -0.05\\ 452705 -0.23\\ 452715 0.20\\ 452725 0.01\\ 452735 -0.05\\
452745 -0.01\\ 452755 0.12\\ 452765 -0.07\\ 452775 0.14\\ 452785 -0.10\\ 452795 0.06\\
452805 -0.11\\ 452815 0.19\\ 452825 0.03\\ 452835 0.00\\ 452845 0.09\\ 452855 0.16\\
452865 0.12\\ 452875 0.00\\ 452885 0.22\\ 452895 0.08\\ 452905 0.29\\ 452915 -0.02\\
452925 0.03\\ 452935 -0.20\\ 452945 0.01\\ 452955 -0.19\\ 452965 0.03\\ 452975 -0.13\\
452985 -0.02\\ 452995 -0.30\\ 453005 -0.09\\ 453015 -0.12\\ 453025 -0.16\\ 453035 0.00\\
453045 0.01\\ 453055 -0.08\\ 453065 -0.27\\ 453075 -0.27\\ 453085 -0.03\\ 453095 -0.29\\
453105 0.15\\ 453115 -0.02\\ 453125 0.13\\ 453135 -0.03\\ 453145 0.07\\ 453155 0.22\\
453165 -0.05\\ 453175 0.20\\ 453185 0.11\\ 453195 -0.08\\ 453205 -0.18\\ 453215 0.08\\
453225 -0.18\\ 453235 0.03\\ 453245 -0.16\\ 453255 0.07\\ 453265 -0.14\\ 453275 -0.02\\
453285 -0.11\\ 453295 -0.04\\ 453305 -0.19\\ 453315 0.10\\ 453325 -0.08\\ 453335 0.21\\
453345 0.13\\ 453355 0.01\\ 453365 -0.17\\ 453375 -0.05\\ 453385 0.08\\ 453395 -0.13\\
453405 -0.09\\ 453415 0.00\\ 453425 0.18\\ 453435 -0.15\\ 453445 0.03\\ 453455 0.11\\
453465 -0.06\\ 453475 0.13\\ 453485 0.08\\ 453495 -0.08\\ 453505 0.20\\ 453515 0.02\\
453525 0.09\\ 453535 -0.02\\ 453545 0.11\\ 453555 0.03\\ 453565 -0.07\\ 453575 0.16\\
453585 0.13\\ 453595 0.01\\ 453605 0.24\\ 453615 0.09\\ 453625 0.19\\ 453635 -0.07\\
453645 0.28\\ 453655 0.09\\ 453665 0.20\\ 453675 -0.07\\ 453685 0.15\\ 453695 0.02\\
453705 0.15\\ 453715 0.04\\ 453725 0.19\\ 453735 0.04\\ 453745 0.21\\ 453755 -0.09\\
453765 0.02\\ 453775 0.16\\ 453785 -0.02\\ 453795 0.29\\ 453805 0.22\\ 453815 0.46\\
453825 -0.14\\ 453835 0.00\\ 453845 -0.26\\ 453855 -0.25\\ 453865 -0.19\\ 453875 0.01\\
453885 -0.13\\ 453895 0.13\\ 453905 0.09\\ 453915 0.04\\ 453925 0.13\\ 453935 0.21\\
453945 0.27\\ 453955 0.20\\ 453965 0.40\\ 453975 -0.03\\ 453985 0.16\\ 453995 -0.10\\
451032 0.49\\ 451045 -0.48\\ 451110 -0.56\\ 451125 -0.59\\ 451180 -0.35\\ 451418 -0.43\\
451435 0.95\\ 451602 -0.45\\ 451749 0.78\\ 451775 0.42\\ 452039 -0.50\\ 452128 -0.37\\
452295 0.57\\ 452338 -0.74\\ 452344 0.49\\ 452409 -0.41\\ 452533 0.49\\ 452536 -0.48\\
452543 0.50\\ 452849 0.41\\ 452983 0.51\\ 452978 -0.53\\ 453097 0.36\\ 453205 -0.68\\
453190 -0.56\\ 453463 0.46\\ 453528 0.33\\ 453776 0.51\\ 453873 -0.42\\ 453582 -0.40\\
451500 0.35\\ 451900 0.40\\ 452700 -0.40\\ 453300 0.35\\ 453650 -0.35\\
};
\addplot[tcstyle] table[x=t, y=tc] {\yawlines};
\addplot[qcstyle] table[x=t, y=qc] {\yawlines};
\end{axis}
\end{tikzpicture}
\end{document}
